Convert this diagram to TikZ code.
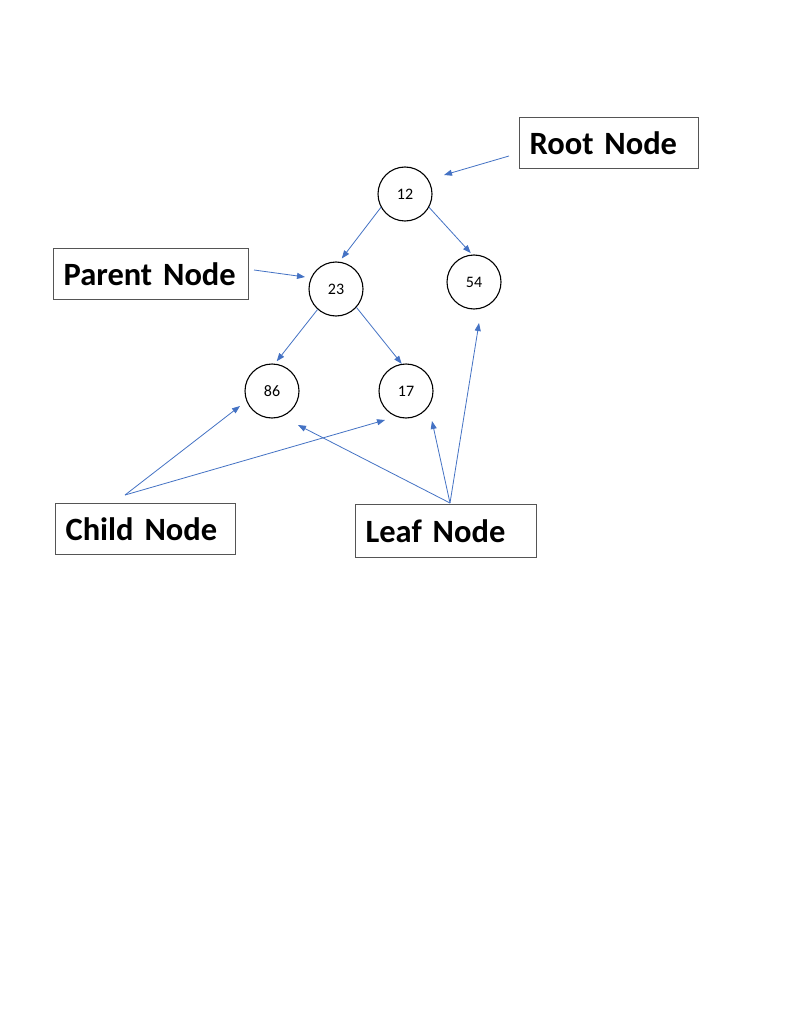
\documentclass[tikz,border=0pt]{standalone}
\usepackage{fontspec}
\setmainfont{Carlito}[WordSpace=0.7]
\usetikzlibrary{arrows.meta}
\definecolor{arrowblue}{HTML}{4472C4}
\definecolor{boxgray}{HTML}{555555}
\tikzset{
  treenode/.style={circle, draw=black, line width=1.1pt, minimum size=54pt, inner sep=0pt, font=\fontsize{16}{18}\selectfont},
  labelbox/.style={draw=boxgray, line width=1.2pt, rectangle, anchor=north west, inner xsep=10pt, inner ysep=0pt, align=left, font=\bfseries\fontsize{32.5}{35}\selectfont},
  conn/.style={draw=arrowblue, line width=0.8pt, -{Triangle[length=8pt,width=6pt]}}
}
\begin{document}
\begin{tikzpicture}[x=1pt,y=-1pt]
\useasboundingbox (0,0) rectangle (792,1024);
\fill[white] (0,0) rectangle (792,1024);
% tree nodes
\node[treenode] (c12) at (405,194) {12};
\node[treenode] (c23) at (336,289) {23};
\node[treenode] (c54) at (474,282) {54};
\node[treenode] (c86) at (272,391) {86};
\node[treenode] (c17) at (406,391) {17};
% label boxes
\node[labelbox, minimum width=179pt, minimum height=51pt, text width=159pt] (root) at (519,117) {Root Node};
\node[labelbox, minimum width=195pt, minimum height=51pt, text width=175pt] (parent) at (53,248) {Parent Node};
\node[labelbox, minimum width=180pt, minimum height=51pt, text width=160pt] (child) at (55,503) {Child Node};
\node[labelbox, minimum width=181pt, minimum height=53pt, text width=161pt] (leaf) at (355,504) {Leaf Node};
% free ends of label connectors
\coordinate (rootS) at (509,156);
\coordinate (rootE) at (444,175);
\coordinate (parS) at (254,270);
\coordinate (parE) at (305,277);
\coordinate (childS) at (125,495);
\coordinate (childE1) at (240,406);
\coordinate (childE2) at (385,420);
\coordinate (leafS) at (450,503);
\coordinate (leafE1) at (298,425);
\coordinate (leafE2) at (432,421);
\coordinate (leafE3) at (479,323);
% tree edges
\draw[conn, shorten >=4pt] (c12.-151) -- (c23.83);
\draw[conn, shorten >=2pt] (c12.-29) -- (c54.94);
\draw[conn, shorten >=3pt] (c23.228) -- (c86.84);
\draw[conn] (c23.-42) -- (c17.99);
% label connectors
\draw[conn] (rootS) -- (rootE);
\draw[conn] (parS) -- (parE);
\draw[conn] (childS) -- (childE1);
\draw[conn] (childS) -- (childE2);
\draw[conn] (leafS) -- (leafE1);
\draw[conn] (leafS) -- (leafE2);
\draw[conn] (leafS) -- (leafE3);
\end{tikzpicture}
\end{document}
